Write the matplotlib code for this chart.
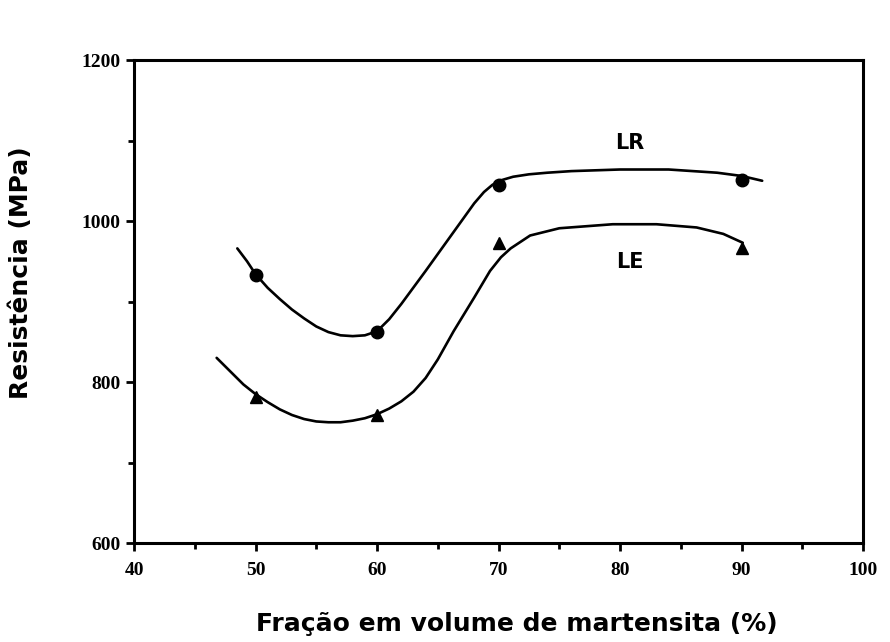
import matplotlib
matplotlib.use("Agg")
import matplotlib.pyplot as plt
from matplotlib.ticker import MultipleLocator

# Measured points
x_pts = [50, 60, 70, 90]
lr_pts = [933, 862, 1045, 1051]
le_pts = [781, 759, 973, 966]

# Fitted curves
lr_curve_x = [48.5, 49.3, 50, 51, 52, 53, 54, 55, 56, 57, 58, 59, 60, 61, 62, 64, 66, 68, 68.8, 69.5, 70.3, 71.2, 72.5, 74, 76, 80, 84, 88, 90, 91.7]
lr_curve_y = [966, 950, 934, 917, 903, 890, 879, 869, 862, 858, 857, 858, 863, 878, 897, 938, 980, 1022, 1036, 1045, 1051, 1055, 1058, 1060, 1062, 1064, 1064, 1060, 1056, 1050]
le_curve_x = [46.8, 48, 49, 50, 51, 52, 53, 54, 55, 56, 57, 58, 59, 60, 61, 62, 63, 64, 65, 66.3, 68, 69.3, 70.2, 71, 72.6, 75, 79.4, 83, 86.3, 88.5, 90.1]
le_curve_y = [830, 812, 797, 785, 775, 766, 759, 754, 751, 750, 750, 752, 755, 760, 767, 776, 788, 805, 828, 863, 905, 938, 955, 966, 982, 991, 996, 996, 992, 984, 973]

xticks = [40, 50, 60, 70, 80, 90, 100]
yticks = [600, 800, 1000, 1200]

fig = plt.figure(figsize=(8.9, 6.42), dpi=100)
ax = fig.add_axes([0.1506, 0.1542, 0.8191, 0.7523])

ax.plot(lr_curve_x, lr_curve_y, color="black", lw=1.9, solid_capstyle="round", solid_joinstyle="round")
ax.plot(le_curve_x, le_curve_y, color="black", lw=1.9, solid_capstyle="round", solid_joinstyle="round")
ax.plot(x_pts, lr_pts, "o", color="black", ms=9, ls="none")
ax.plot(x_pts, le_pts, "^", color="black", ms=9, ls="none")

ax.text(80.8, 1097, "LR", fontsize=15, fontweight="bold", ha="center", va="center", family="DejaVu Sans")
ax.text(80.8, 949, "LE", fontsize=15, fontweight="bold", ha="center", va="center", family="DejaVu Sans")

ax.set_xlim(40, 100)
ax.set_ylim(600, 1200)
ax.set_xticks(xticks)
ax.set_yticks(yticks)
ax.xaxis.set_minor_locator(MultipleLocator(5))
ax.yaxis.set_minor_locator(MultipleLocator(100))
ax.tick_params(which="major", direction="out", length=6, width=2)
ax.tick_params(which="minor", direction="out", length=4, width=2)
ax.tick_params(axis="x", which="major", pad=8)
ax.tick_params(axis="y", which="major", pad=4)
for lab in ax.get_xticklabels() + ax.get_yticklabels():
    lab.set_family("Liberation Serif")
    lab.set_fontweight("bold")
    lab.set_fontsize(14)
for s in ax.spines.values():
    s.set_linewidth(2.2)

ax.set_xlabel("Fração em volume de martensita (%)", fontsize=18, fontweight="bold",
              family="DejaVu Sans", va="center")
ax.set_ylabel("Resistência (MPa)", fontsize=18, fontweight="bold",
              family="DejaVu Sans", va="center")
ax.xaxis.set_label_coords(0.525, -0.168)
ax.yaxis.set_label_coords(-0.155, 0.56)

fig.savefig("out.png", dpi=100)
